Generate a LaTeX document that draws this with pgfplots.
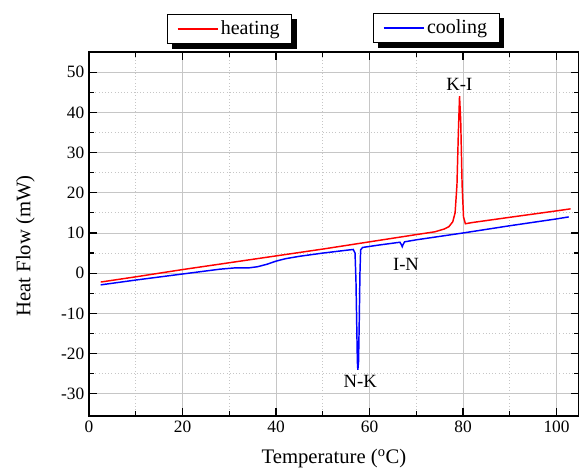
\documentclass[border=0pt]{standalone}
\usepackage{fontspec}
\setmainfont{Liberation Serif}
\usepackage{pgfplots}
\pgfplotsset{compat=1.18}

\pgfplotstableread{
x y
2.5 -2.2
10 -0.9
20 0.9
30 2.6
40 4.3
50 6.0
60 7.8
70 9.6
74 10.3
76 11.0
77 11.6
77.8 12.8
78.3 15
78.7 22
79.0 35
79.25 44
79.5 38
79.8 22
80.1 14
80.5 12.3
82 12.6
90 13.9
100 15.5
103 16.0
}\heating

\pgfplotstableread{
x y
2.5 -2.9
10 -1.7
20 -0.2
28 1.0
31 1.3
34 1.3
36 1.6
38 2.2
40 3.0
42 3.6
45 4.2
50 5.0
55 5.7
56.5 5.9
56.9 5.0
57.1 -2
57.25 -12
57.4 -22
57.5 -24
57.65 -22
57.8 -12
57.95 0
58.1 5.8
58.5 6.4
62 7.0
66.5 7.7
66.8 7.1
67.0 6.6
67.2 7.2
67.5 7.8
70 8.3
80 10.0
90 11.8
100 13.5
102.6 14.0
}\cooling

\pgfplotsset{
  dsc/.style={
    width=367.5pt, height=273pt, scale only axis,
    xmin=0, xmax=104.8, ymin=-35.5, ymax=55,
    legend style={draw=black, line width=0.6pt, fill=white,
      font=\fontsize{15}{18}\selectfont, inner xsep=7pt, inner ysep=3pt,
      legend cell align=left},
    legend image code/.code={\draw[#1, line width=0.9pt] (0pt,0pt) -- (30pt,0pt);},
  }
}

\begin{document}
\begin{tikzpicture}
\begin{axis}[dsc, name=main,
  axis line style={line width=1.4pt},
  xtick={0,20,...,100}, minor x tick num=1,
  ytick={-30,-20,...,50}, minor y tick num=1,
  tick align=inside,
  major tick length=6pt, minor tick length=4pt,
  tick style={black, line width=0.9pt},
  grid=both,
  major grid style={gray!45, line width=0.6pt},
  minor grid style={gray!45, dotted, line width=0.6pt},
  /pgf/number format/assume math mode=true,
  tick label style={font=\fontsize{13}{15}\selectfont},
  xlabel={Temperature (\textsuperscript{o}C)},
  ylabel={Heat Flow (mW)},
  label style={font=\fontsize{15.5}{18}\selectfont},
  xlabel style={yshift=-6pt},
  ylabel style={at={(ticklabel cs:0.467)}, yshift=13pt},
  legend style={at={(0.287,1.063)}, anchor=center, name=legH},
  clip mode=individual,
]
\addplot[red, line width=1.1pt] table {\heating};
\addlegendentry{heating}
\node[font=\fontsize{14}{16}\selectfont] at (axis cs:79.2,47) {K-I};
\node[font=\fontsize{14}{16}\selectfont] at (axis cs:58,-26.8) {N-K};
\node[font=\fontsize{14}{16}\selectfont] at (axis cs:67.8,2.2) {I-N};
\end{axis}
\begin{axis}[dsc, hide axis,
  legend style={at={(0.709,1.066)}, anchor=center, name=legC},
]
\addplot[blue, line width=1.1pt] table {\cooling};
\addlegendentry{cooling}
\end{axis}
% legend box shadows
\foreach \l in {legH,legC}{
  \fill[black] ([yshift=-3.5pt]\l.north east) rectangle ([xshift=3.5pt,yshift=-3.5pt]\l.south east);
  \fill[black] ([xshift=3.5pt]\l.south west) rectangle ([xshift=3.5pt,yshift=-3.5pt]\l.south east);
}
\pgfresetboundingbox
\path ([xshift=-66.75pt, yshift=-44.25pt]main.south west) rectangle ([yshift=39pt]main.north east);
\end{tikzpicture}
\end{document}
